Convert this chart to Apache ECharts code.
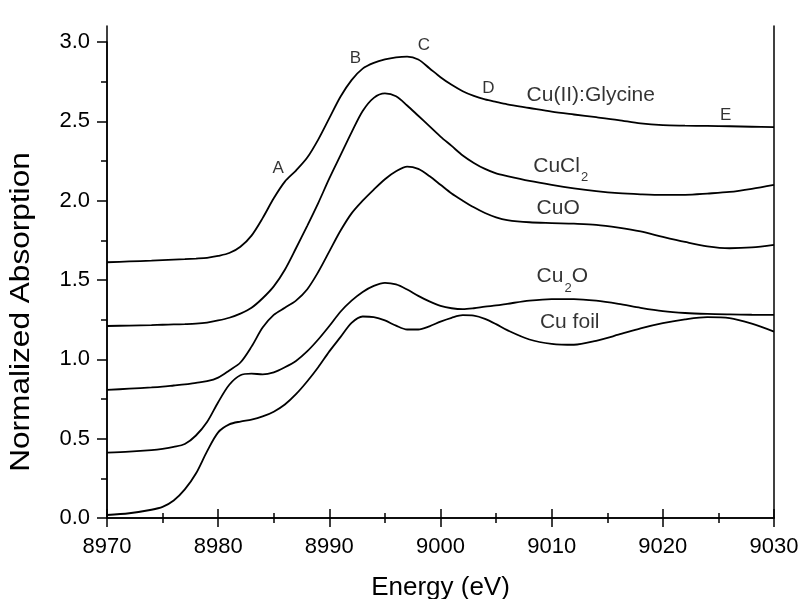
<!DOCTYPE html>
<html><head><meta charset="utf-8">
<script src="https://cdn.jsdelivr.net/npm/echarts@6/dist/echarts.min.js"></script>
<style>html,body{margin:0;padding:0;background:#fff}#c{width:801px;height:599px}</style>
</head><body><div id="c"></div>
<script>
// ---- data ----
const energy = [8970, 8972, 8974, 8975, 8976, 8977, 8978, 8979, 8980, 8981, 8982, 8983, 8984, 8985, 8986, 8987, 8988, 8989, 8990, 8991, 8992, 8993, 8994, 8995, 8996, 8997, 8998, 8999, 9000, 9001, 9002, 9003, 9004, 9005, 9006, 9008, 9010, 9012, 9014, 9016, 9018, 9020, 9022, 9024, 9026, 9028, 9030];
const glycine = [1.612, 1.617, 1.622, 1.625, 1.628, 1.631, 1.635, 1.640, 1.652, 1.670, 1.710, 1.780, 1.890, 2.015, 2.120, 2.190, 2.270, 2.385, 2.520, 2.655, 2.760, 2.832, 2.868, 2.890, 2.903, 2.908, 2.890, 2.835, 2.778, 2.730, 2.690, 2.660, 2.638, 2.622, 2.607, 2.584, 2.561, 2.543, 2.526, 2.508, 2.487, 2.476, 2.473, 2.471, 2.469, 2.466, 2.463];
const cucl2 = [1.210, 1.213, 1.216, 1.218, 1.220, 1.222, 1.225, 1.232, 1.245, 1.262, 1.288, 1.325, 1.385, 1.460, 1.565, 1.700, 1.840, 1.985, 2.140, 2.285, 2.430, 2.565, 2.648, 2.676, 2.658, 2.600, 2.535, 2.470, 2.404, 2.345, 2.285, 2.238, 2.200, 2.172, 2.155, 2.125, 2.100, 2.078, 2.060, 2.047, 2.040, 2.036, 2.037, 2.045, 2.055, 2.075, 2.100];
const cuo = [0.807, 0.815, 0.823, 0.828, 0.835, 0.842, 0.852, 0.862, 0.885, 0.930, 0.980, 1.080, 1.200, 1.280, 1.325, 1.370, 1.440, 1.550, 1.680, 1.810, 1.920, 2.000, 2.070, 2.135, 2.185, 2.215, 2.200, 2.155, 2.100, 2.045, 2.000, 1.958, 1.922, 1.895, 1.878, 1.864, 1.859, 1.855, 1.848, 1.830, 1.806, 1.772, 1.740, 1.712, 1.700, 1.705, 1.721];
const cu2o = [0.412, 0.418, 0.428, 0.436, 0.448, 0.466, 0.520, 0.605, 0.730, 0.840, 0.900, 0.910, 0.905, 0.918, 0.950, 0.990, 1.050, 1.125, 1.210, 1.300, 1.370, 1.425, 1.463, 1.482, 1.472, 1.440, 1.400, 1.365, 1.337, 1.322, 1.316, 1.322, 1.332, 1.340, 1.350, 1.370, 1.380, 1.380, 1.370, 1.350, 1.325, 1.304, 1.292, 1.286, 1.283, 1.281, 1.280];
const cufoil = [0.019, 0.030, 0.052, 0.070, 0.110, 0.180, 0.280, 0.420, 0.540, 0.590, 0.608, 0.620, 0.640, 0.670, 0.715, 0.780, 0.860, 0.950, 1.050, 1.140, 1.230, 1.270, 1.266, 1.245, 1.212, 1.188, 1.188, 1.208, 1.238, 1.262, 1.278, 1.275, 1.255, 1.222, 1.184, 1.125, 1.098, 1.092, 1.117, 1.155, 1.195, 1.228, 1.252, 1.266, 1.260, 1.225, 1.175];

const peakLetters = ['A', 'B', 'C', 'D', 'E'];
const peakEnergy = [8984.85, 8991.8, 8997.9, 9003.7, 9025.1];
const peakValue = [2.207, 2.90, 2.98, 2.71, 2.54];

const sampleMain = ['Cu(II):Glycine', 'CuCl', 'CuO', 'Cu', 'Cu foil'];
const sampleSub = ['', '2', '', '2', ''];
const sampleTail = ['', '', '', 'O', ''];
const sampleEnergy = [9007.7, 9008.3, 9008.6, 9008.6, 9008.9];
const sampleValue = [2.667, 2.22, 1.953, 1.521, 1.231];

const xMin = 8970, xMax = 9030, xStep = 10;
const yMin = 0, yMax = 3.0, yStep = 0.5;
const xTitle = 'Energy (eV)';
const yTitle = 'Normalized Absorption';

// ---- chart ----
const FONT = '"Liberation Sans", Arial, sans-serif';
const black = '#000';
const chart = echarts.init(document.getElementById('c'), null, {renderer: 'canvas'});

const curves = [glycine, cucl2, cuo, cu2o, cufoil].map(vals => ({
  type: 'line', xAxisIndex: 0, yAxisIndex: 0,
  data: energy.map((e, i) => [e, vals[i]]),
  showSymbol: false, symbol: 'none', smooth: 0.3,
  lineStyle: {color: black, width: 1.8}, silent: true, z: 3
}));

const letterSeries = {
  type: 'scatter', xAxisIndex: 0, yAxisIndex: 0, symbolSize: 1,
  itemStyle: {color: 'rgba(0,0,0,0)'}, silent: true, z: 5,
  data: peakLetters.map((t, i) => ({value: [peakEnergy[i], peakValue[i]], name: t})),
  label: {show: true, position: 'right', distance: 0, formatter: p => p.name,
    fontFamily: FONT, fontSize: 17, color: black}
};

const sampleSeries = {
  type: 'scatter', xAxisIndex: 0, yAxisIndex: 0, symbolSize: 1,
  itemStyle: {color: 'rgba(0,0,0,0)'}, silent: true, z: 5,
  data: sampleMain.map((t, i) => ({value: [sampleEnergy[i], sampleValue[i]], name: String(i)})),
  label: {show: true, position: 'right', distance: 0,
    formatter: p => {
      const i = +p.name;
      let s = '{m|' + sampleMain[i] + '}';
      if (sampleSub[i]) s += '{s|' + sampleSub[i] + '}';
      if (sampleTail[i]) s += '{m|' + sampleTail[i] + '}';
      return s;
    },
    rich: {
      m: {fontFamily: FONT, fontSize: 21, color: black, lineHeight: 44, verticalAlign: 'middle'},
      s: {fontFamily: FONT, fontSize: 13, color: black, lineHeight: 44, verticalAlign: 'top', padding: [27, 0, 0, 1]}
    }
  }
};

const tickStyle = {color: black, width: 1.5};

chart.setOption({
  animation: false,
  backgroundColor: '#fff',
  grid: [
    {left: 107, right: 27, top: 42, bottom: 81, containLabel: false, outerBoundsMode: 'none'},
    {left: 107, right: 27, top: 26, bottom: 81, containLabel: false, outerBoundsMode: 'none'}
  ],
  xAxis: [
    {type: 'value', gridIndex: 0, position: 'bottom', min: xMin, max: xMax, interval: xStep,
     axisLine: {show: true, lineStyle: tickStyle},
     axisTick: {show: true, inside: false, length: 9, lineStyle: tickStyle},
     minorTick: {show: true, splitNumber: 2, length: 5, lineStyle: tickStyle},
     axisLabel: {show: true, margin: 18, fontFamily: FONT, fontSize: 22, color: black,
       showMinLabel: true, showMaxLabel: true, formatter: v => String(v)},
     splitLine: {show: false}, minorSplitLine: {show: false},
     name: xTitle, nameLocation: 'middle', nameGap: 57,
     nameTextStyle: {fontFamily: FONT, fontSize: 26, color: black}},
    {type: 'value', gridIndex: 1, position: 'top', min: xMin, max: xMax, interval: xStep,
     axisLine: {show: true, lineStyle: tickStyle},
     axisTick: {show: true, inside: false, length: 9, lineStyle: tickStyle},
     minorTick: {show: true, splitNumber: 2, length: 5, lineStyle: tickStyle},
     axisLabel: {show: false}, splitLine: {show: false}}
  ],
  yAxis: [
    {type: 'value', gridIndex: 0, position: 'left', min: yMin, max: yMax, interval: yStep,
     axisLine: {show: true, lineStyle: tickStyle},
     axisTick: {show: true, inside: false, length: 10, lineStyle: tickStyle},
     minorTick: {show: true, splitNumber: 2, length: 6, lineStyle: tickStyle},
     axisLabel: {show: true, margin: 17, fontFamily: FONT, fontSize: 22, color: black,
       formatter: v => v.toFixed(1)},
     splitLine: {show: false}},
    {type: 'value', gridIndex: 1, position: 'left', min: 0, max: 1,
     axisLine: {show: true, lineStyle: tickStyle}, axisTick: {show: false},
     axisLabel: {show: false}, splitLine: {show: false}},
    {type: 'value', gridIndex: 1, position: 'right', min: 0, max: 1,
     axisLine: {show: true, lineStyle: tickStyle}, axisTick: {show: false},
     axisLabel: {show: false}, splitLine: {show: false}}
  ],
  graphic: [{
    type: 'text', x: 22, y: 312, rotation: Math.PI / 2, scaleX: 1.17, silent: true,
    style: {text: yTitle, fontFamily: FONT, fontSize: 27, fill: black,
      textAlign: 'center', textVerticalAlign: 'middle'}
  }],
  series: [...curves, letterSeries, sampleSeries]
});
</script>
</body></html>
